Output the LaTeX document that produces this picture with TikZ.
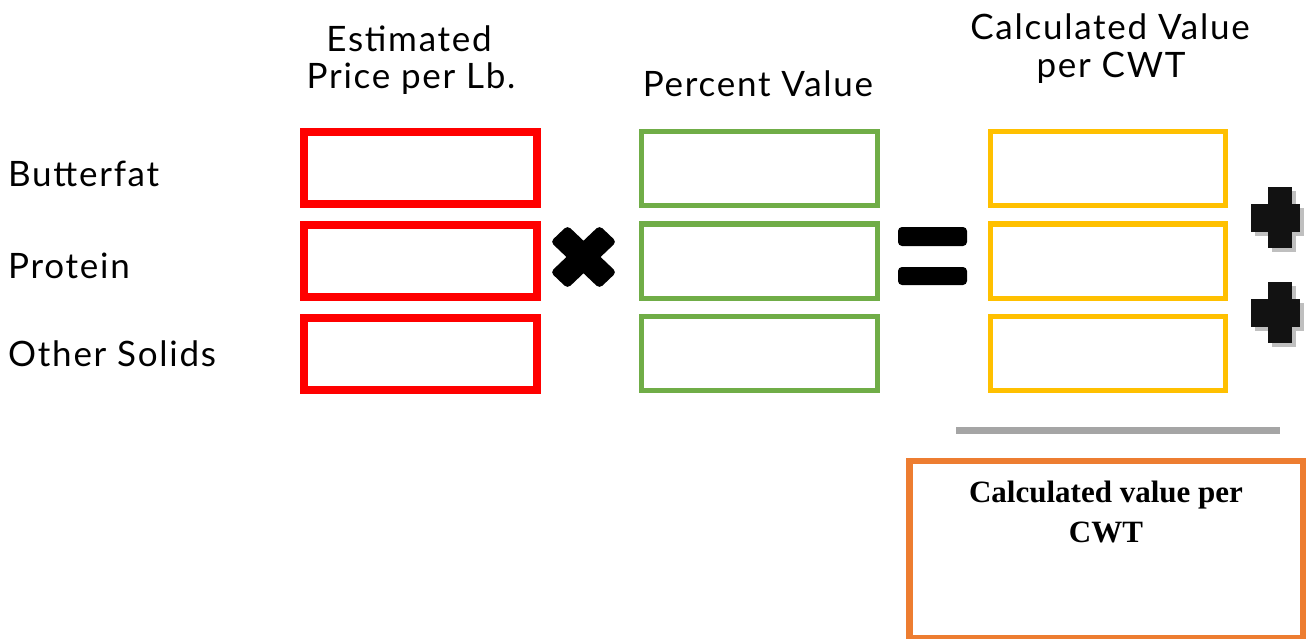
\documentclass[tikz,border=0pt]{standalone}
\usepackage{fontspec}
\setmainfont{Lato}[LetterSpace=5]
\newfontfamily\serifb{Liberation Serif}
\definecolor{cred}{HTML}{FF0000}
\definecolor{cgreen}{HTML}{70AD47}
\definecolor{cyellow}{HTML}{FFC000}
\definecolor{corange}{HTML}{ED7D31}
\definecolor{cgray}{HTML}{A5A5A5}
\begin{document}
\begin{tikzpicture}[x=1pt,y=-1pt,
  lbl/.style={anchor=base west,inner sep=0pt,font=\fontsize{35}{37}\selectfont},
  hdr/.style={anchor=base,inner sep=0pt,font=\fontsize{35}{37}\selectfont},
  redbox/.style={draw=cred,line width=8pt,minimum width=233pt,minimum height=72pt,inner sep=0pt},
  greenbox/.style={draw=cgreen,line width=5pt,minimum width=236pt,minimum height=74pt,inner sep=0pt},
  yellowbox/.style={draw=cyellow,line width=5pt,minimum width=235pt,minimum height=74pt,inner sep=0pt},
  opsign/.style={fill=black,rounded corners=4pt},
]
\useasboundingbox (0,0) rectangle (1306,639);
% row labels
\node[lbl] (lb1) at (8,186) {Butterfat};
\node[lbl] (lb2) at (8,278) {Protein};
\node[lbl] (lb3) at (8,366) {Other Solids};
% headers
\node[hdr] (h1a) at (409,52) {Estimated};
\node[hdr] (h1b) at (411,89) {Price per Lb.};
\node[hdr] (h2) at (758,97) {Percent Value};
\node[hdr] (h3a) at (1110,40) {Calculated Value};
\node[hdr] (h3b) at (1111,78) {per CWT};
% boxes
\node[redbox] (r1) at (420.5,168) {};
\node[redbox] (r2) at (420.5,261) {};
\node[redbox] (r3) at (420.5,353.5) {};
\node[greenbox] (g1) at (759.5,169) {};
\node[greenbox] (g2) at (759.5,261) {};
\node[greenbox] (g3) at (759.5,353.5) {};
\node[yellowbox] (y1) at (1108,169) {};
\node[yellowbox] (y2) at (1108,261) {};
\node[yellowbox] (y3) at (1108,353.5) {};
% times sign
\begin{scope}[shift={(583.5,257)},xscale=1.05]
  \fill[opsign,rotate=45] (-33,-11.5) rectangle (33,11.5);
  \fill[opsign,rotate=-45] (-33,-11.5) rectangle (33,11.5);
\end{scope}
% equals sign
\fill[opsign] (898,227) rectangle (967,246);
\fill[opsign] (898,267) rectangle (967,285);
% plus signs
\foreach \dy in {0,95}{
  \begin{scope}[shift={(0,\dy)}]
    \fill[black!25] (1255,208) rectangle (1304,236);
    \fill[black!25] (1272,191) rectangle (1296,252);
    \fill[black!93] (1251,204) rectangle (1300,232);
    \fill[black!93] (1268,187) rectangle (1292,248);
  \end{scope}
}
% total line
\draw[cgray,line width=6.5pt] (956,430.5) -- (1280,430.5);
% result box
\node[draw=corange,line width=6.5pt,minimum width=394pt,minimum height=177pt,inner sep=0pt] (res) at (1106.5,549.5) {};
\node[anchor=base,inner sep=0pt,align=center,font=\serifb\bfseries\fontsize{31}{40}\selectfont] (rest) at (1106,542) {Calculated value per\\CWT};
\end{tikzpicture}
\end{document}
